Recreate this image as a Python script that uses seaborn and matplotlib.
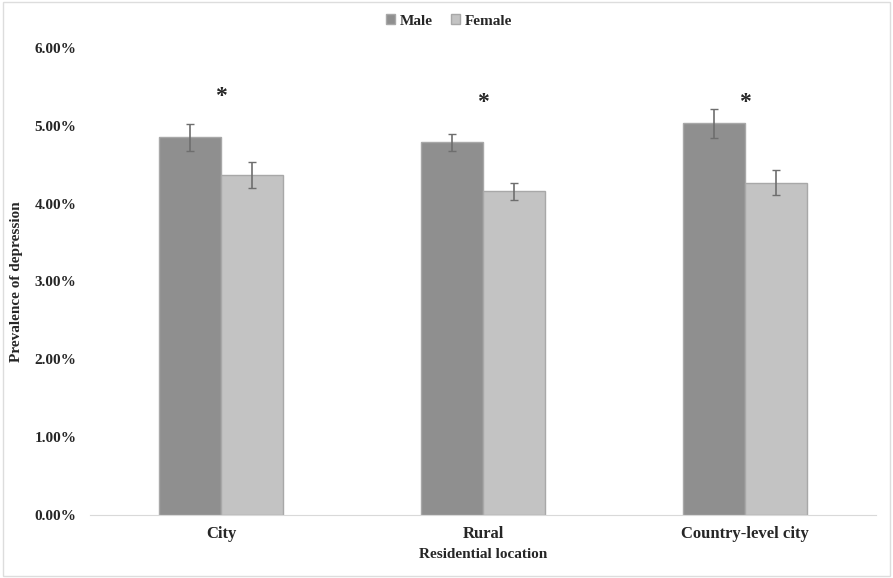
import pandas as pd
import seaborn as sns
import matplotlib.pyplot as plt
from matplotlib.patches import Rectangle

# data
locations = ['City', 'Rural', 'Country-level city']
male = [4.85, 4.79, 5.03]
female = [4.37, 4.16, 4.27]
male_err = [0.17, 0.11, 0.19]
female_err = [0.17, 0.11, 0.16]
star_y = [5.38, 5.30, 5.30]

df = pd.DataFrame({
    'location': locations * 2,
    'sex': ['Male'] * 3 + ['Female'] * 3,
    'value': [v / 100 for v in male + female],
})
errs = {'Male': [e / 100 for e in male_err], 'Female': [e / 100 for e in female_err]}

sns.set_style('white')
plt.rcParams['font.family'] = ['Liberation Serif', 'DejaVu Serif']
plt.rcParams['font.weight'] = 'bold'

fig = plt.figure(figsize=(8.93, 5.78), dpi=100)
ax = fig.add_axes([0.101, 0.109, 0.880, 0.808])
fig.patches.append(Rectangle((0.003, 0.003), 0.994, 0.994, transform=fig.transFigure,
                             fill=False, edgecolor='#dddddd', linewidth=1))

sns.barplot(data=df, x='location', y='value', hue='sex', ax=ax,
            palette={'Male': '#8f8f8f', 'Female': '#c3c3c3'},
            width=0.475, errorbar=None, linewidth=1, edgecolor='#a8a8a8',
            saturation=1)

for container, sex in zip(ax.containers, ['Male', 'Female']):
    for bar, e in zip(container, errs[sex]):
        cx = bar.get_x() + bar.get_width() / 2
        ax.errorbar(cx, bar.get_height(), yerr=e, color='#6e6e6e',
                    capsize=3, elinewidth=1.2, capthick=1)

for i, y in enumerate(star_y):
    ax.text(i, y / 100, '*', ha='center', va='center', fontsize=17)

ax.set_xlim(-0.5, 2.5)
ax.set_ylim(0, 0.06)
ax.set_yticks([i / 100 for i in range(7)])
ax.set_yticklabels([f'{i:.2f}%' for i in range(7)], fontsize=11, fontweight='bold')
ax.tick_params(axis='x', labelsize=12, length=0, pad=8)
ax.tick_params(axis='y', length=0, pad=10)
for lab in ax.get_xticklabels():
    lab.set_fontweight('bold')

ax.set_xlabel('Residential location', fontsize=11, fontweight='bold', labelpad=4)
ax.set_ylabel('Prevalence of depression', fontsize=11, fontweight='bold', labelpad=8)

sns.despine(ax=ax, left=True)
ax.spines['bottom'].set_color('#d9d9d9')

ax.legend(loc='center', bbox_to_anchor=(0.457, 1.058), ncol=2, frameon=False,
          handlelength=0.6, handleheight=0.6, handletextpad=0.3, columnspacing=1.2,
          prop={'size': 11, 'weight': 'bold'})

fig.savefig('out.png', dpi=100)
